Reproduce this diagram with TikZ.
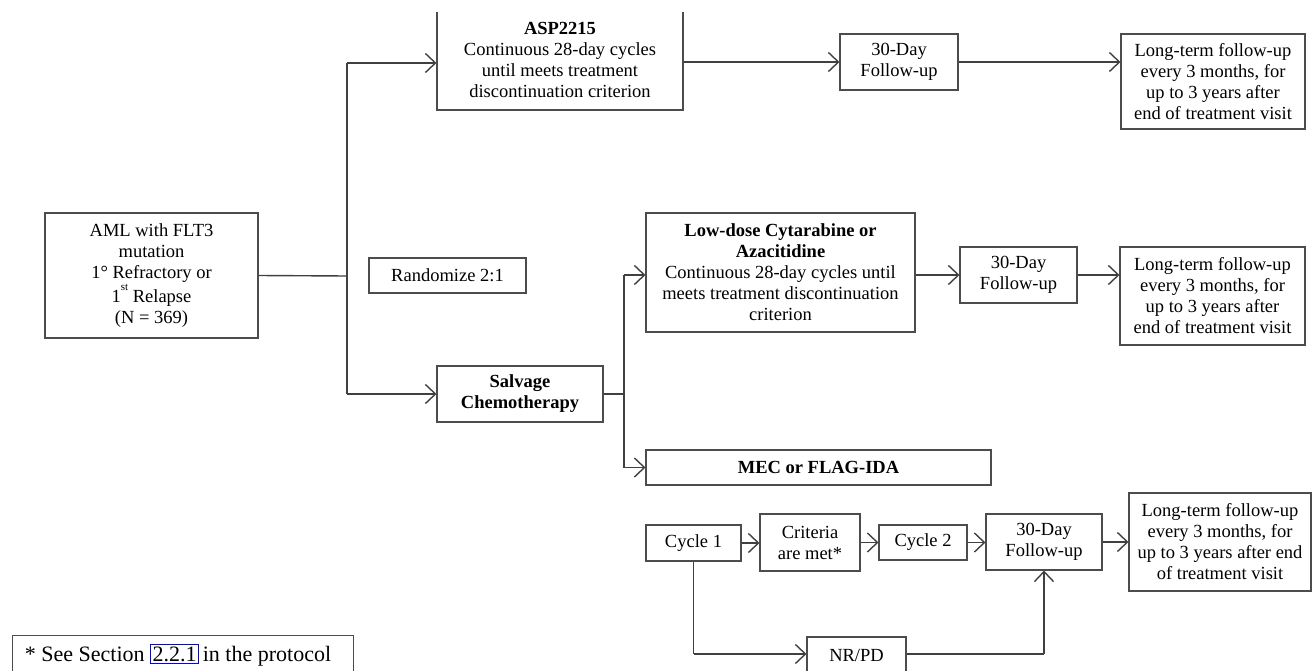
\documentclass[tikz,border=0pt]{standalone}
\usepackage{fontspec}
\setmainfont{Liberation Serif}
\usetikzlibrary{arrows.meta}
\begin{document}
\begin{tikzpicture}[x=1pt,y=-1pt,
  box/.style={draw=black!70, line width=1.1pt, fill=white, inner sep=0pt, align=center,
    font=\fontsize{18.5}{21}\selectfont, text=black},
  conn/.style={draw=black!75, line width=1.4pt},
  arr/.style={conn, -{Straight Barb[length=10pt,width=19pt,line width=1.4pt]}}]
\useasboundingbox (0,0) rectangle (1313,671);
\begin{scope}
\clip (0,13) rectangle (1313,671);
% top row
\node[box, minimum width=246pt, minimum height=101pt] (asp) at (560,59.5)
  {\textbf{ASP2215}\\Continuous 28-day cycles\\until meets treatment\\discontinuation criterion};
\node[box, minimum width=118pt, minimum height=56pt] (fu1) at (899,62) {30-Day\\Follow-up};
\node[box, minimum width=184pt, minimum height=95pt] (lt1) at (1213,81.5)
  {Long-term follow-up\\every 3 months, for\\up to 3 years after\\end of treatment visit};
% left
\node[box, minimum width=213pt, minimum height=125pt] (aml) at (151.5,275.5)
  {AML with FLT3\\mutation\\1° Refractory or\\1\raisebox{12pt}{\fontsize{11}{11}\selectfont st} Relapse\\(N = 369)};
\node[box, minimum width=157pt, minimum height=35pt] (rand) at (447.5,275.5) {Randomize 2:1};
\node[box, minimum width=166pt, minimum height=56pt] (salv) at (520,394)
  {\textbf{Salvage}\\\textbf{Chemotherapy}};
% middle row
\node[box, minimum width=269pt, minimum height=119pt] (low) at (780.5,272.5)
  {\textbf{Low-dose Cytarabine or}\\\textbf{Azacitidine}\\Continuous 28-day cycles until\\meets treatment discontinuation\\criterion};
\node[box, minimum width=117pt, minimum height=56pt] (fu2) at (1018.5,275) {30-Day\\Follow-up};
\node[box, minimum width=185pt, minimum height=98pt] (lt2) at (1212.5,296)
  {Long-term follow-up\\every 3 months, for\\up to 3 years after\\end of treatment visit};
\node[box, minimum width=345pt, minimum height=35pt] (mec) at (818.5,467.5) {\textbf{MEC or FLAG-IDA}};
% bottom row
\node[box, minimum width=95pt, minimum height=36pt] (c1) at (693.5,543) {Cycle 1};
\node[box, minimum width=100pt, minimum height=57pt] (crit) at (810,542.5) {Criteria\\are met*};
\node[box, minimum width=88pt, minimum height=35pt] (c2) at (923,542.5) {Cycle 2};
\node[box, minimum width=116pt, minimum height=56pt] (fu3) at (1044,542) {30-Day\\Follow-up};
\node[box, minimum width=182pt, minimum height=98pt] (lt3) at (1220,542)
  {Long-term follow-up\\every 3 months, for\\up to 3 years after end\\of treatment visit};
\node[box, minimum width=99pt, minimum height=36pt] (nrpd) at (856.5,655) {NR/PD};
\node[box, minimum width=341pt, minimum height=37pt, font=\fontsize{22}{24}\selectfont, text depth=0pt,
  text height=14pt, anchor=north west, inner xsep=0pt] (foot) at (12,635)
  {\strut * See Section {\setlength{\fboxsep}{1.5pt}\setlength{\fboxrule}{1pt}\fcolorbox{blue}{white}{2.2.1}}\,in the protocol\hspace{10pt}};
% connectors
\coordinate (split) at (347,276);
\coordinate (ctop) at (347,63);
\coordinate (cbot) at (347,394);
\coordinate (msplit) at (624,394);
\coordinate (mtop) at (624,275);
\coordinate (mbot) at (624,467.5);
\coordinate (c1d) at (693.5,654);
\coordinate (fu3d) at (1044,654);
\draw[conn] (aml.east) -- (split);
\draw[conn] (ctop) -- (cbot);
\draw[arr] (ctop) -- (ctop -| asp.west);
\draw[arr] (cbot) -- (salv.west);
\draw[arr] (asp.east |- fu1.west) -- (fu1.west);
\draw[arr] (fu1.east) -- (fu1.east -| lt1.west);
\draw[conn] (salv.east) -- (msplit);
\draw[conn] (mtop) -- (mbot);
\draw[arr] (mtop) -- (mtop -| low.west);
\draw[arr] (mbot) -- (mec.west);
\draw[arr] (low.east |- fu2.west) -- (fu2.west);
\draw[arr] (fu2.east) -- (fu2.east -| lt2.west);
\draw[arr] (c1.east) -- (c1.east -| crit.west);
\draw[arr] (crit.east |- c2.west) -- (c2.west);
\draw[arr] (c2.east) -- (c2.east -| fu3.west);
\draw[arr] (fu3.east) -- (fu3.east -| lt3.west);
\draw[conn] (c1.south) -- (c1d);
\draw[arr] (c1d) -- (c1d -| nrpd.west);
\draw[conn] (nrpd.east |- fu3d) -- (fu3d);
\draw[arr] (fu3d) -- (fu3.south);
\end{scope}
\end{tikzpicture}
\end{document}
